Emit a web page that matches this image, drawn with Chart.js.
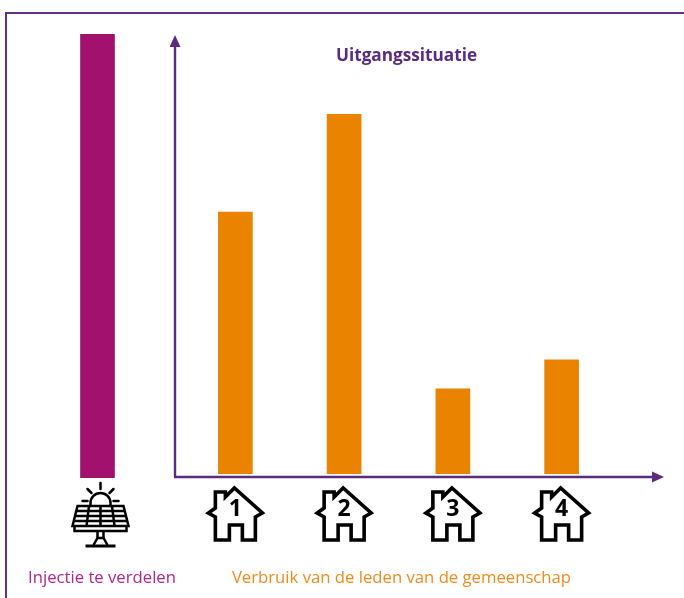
<!DOCTYPE html>
<html lang="nl">
<head>
<meta charset="utf-8">
<title>Uitgangssituatie</title>
<script src="https://cdn.jsdelivr.net/npm/chart.js@4"></script>
<style>
html,body{margin:0;padding:0;background:#fff;width:684px;height:598px;overflow:hidden}
canvas{position:absolute;top:0}
#frame{position:absolute;left:5px;top:12px;width:679px;height:586px;border-top:2px solid #5f3285;border-left:2px solid #5f3285;box-sizing:border-box}
</style>
</head>
<body>
<div id="frame"></div>
<canvas id="inj" width="194" height="598" style="left:0"></canvas>
<canvas id="use" width="514" height="598" style="left:170px"></canvas>
<script>
const chartTitle = "Uitgangssituatie";
const injectionCategory = ["Injectie te verdelen"];
const injectionValues = [100];
const memberCategories = ["1", "2", "3", "4"];
const memberValues = [59, 81, 19.2, 25.7];
const memberCaption = "Verbruik van de leden van de gemeenschap";
const yMax = 100;

const PURPLE = "#5b2c7e", MAGENTA = "#a3116f", ORANGE = "#e98300";
const FONT = '"Open Sans", sans-serif';

Chart.defaults.animation = false;
Chart.defaults.responsive = false;

function line(c, pts, close) {
  c.beginPath();
  pts.forEach((p, i) => i ? c.lineTo(p[0], p[1]) : c.moveTo(p[0], p[1]));
  if (close) c.closePath();
  c.stroke();
}

function drawHouse(c, cx, top) {
  c.save();
  c.translate(cx, top);
  c.strokeStyle = "#000";
  c.lineWidth = 3.6;
  c.lineJoin = "miter";
  line(c, [[-20,52],[-20,29],[-27,25],[-20,20],[-20,4],[-10,4],[-10,9],[-1,0],[27,25],[20,29],[20,52],[7,52],[7,37],[-6,37],[-6,52]], true);
  c.restore();
}

function drawPanel(c, cx, top) {
  c.save();
  c.translate(cx, top);
  c.strokeStyle = "#000";
  c.lineCap = "round";
  c.lineWidth = 2.5;
  c.beginPath(); c.moveTo(-10, 23); c.lineTo(-10, 20); c.arc(0, 20, 10, Math.PI, 2 * Math.PI, false); c.lineTo(10, 23);
  c.stroke();
  line(c, [[0,0],[0,6]]);
  line(c, [[-13,6],[-9,10]]);
  line(c, [[13,6],[9,10]]);
  line(c, [[-18,18],[-13,18]]);
  line(c, [[13,18],[18,18]]);
  c.lineCap = "butt";
  line(c, [[-23,23],[23,23],[28,43],[-28,43]], true);
  line(c, [[-26,43],[-26,48],[26,48],[26,43]]);
  line(c, [[-24.5,28],[24.5,28]]);
  line(c, [[-26,33],[26,33]]);
  line(c, [[-27,38],[27,38]]);
  line(c, [[-11.5,23],[-14,43]]);
  line(c, [[0,23],[0,43]]);
  line(c, [[11.5,23],[14,43]]);
  line(c, [[-3,48],[-3,55]]);
  line(c, [[3,48],[3,55]]);
  line(c, [[-7,62],[-3,55],[3,55],[7,62]]);
  c.lineWidth = 3;
  line(c, [[-15,63],[15,63]]);
  c.restore();
}

function text(c, str, x, y, font, color) {
  c.save();
  c.font = font;
  c.fillStyle = color;
  c.textAlign = "center";
  c.textBaseline = "middle";
  c.fillText(str, x, y);
  c.restore();
}

const injectionDecor = {
  id: "injectionDecor",
  afterDraw(chart) {
    const c = chart.ctx, cx = chart.scales.x.getPixelForValue(0);
    drawPanel(c, cx + 3, 483);
    text(c, injectionCategory[0], cx + 4.5, 578, "16.7px " + FONT, "#b0278c");
  }
};

const memberDecor = {
  id: "memberDecor",
  beforeDatasetsDraw(chart) {
    const c = chart.ctx, y0 = chart.scales.y.getPixelForValue(0) + 3;
    const ax = 5;
    c.save();
    c.strokeStyle = PURPLE;
    c.fillStyle = PURPLE;
    c.lineWidth = 2.4;
    line(c, [[ax, y0], [ax, 46]]);
    line(c, [[ax - 1, y0], [483, y0]]);
    c.beginPath(); c.moveTo(ax, 35); c.lineTo(ax + 5.5, 47); c.lineTo(ax - 5.5, 47); c.closePath(); c.fill();
    c.beginPath(); c.moveTo(494, y0); c.lineTo(482, y0 + 5.5); c.lineTo(482, y0 - 5.5); c.closePath(); c.fill();
    c.restore();
  },
  afterDraw(chart) {
    const c = chart.ctx, s = chart.scales.x;
    memberCategories.forEach((m, i) => drawHouse(c, s.getPixelForTick(i), 488));
    text(c, memberCaption, 231.5, 578, "16.7px " + FONT, "#f08a1d");
    text(c, chartTitle, 236.5, 56, "bold 17.2px " + FONT, PURPLE);
  }
};

new Chart(document.getElementById("inj"), {
  type: "bar",
  data: { labels: injectionCategory, datasets: [{ data: injectionValues, backgroundColor: MAGENTA, borderWidth: 0, barThickness: 34 }] },
  options: {
    layout: { padding: { top: 34, left: 1, bottom: 120 } },
    plugins: { legend: { display: false }, tooltip: { enabled: false } },
    scales: {
      x: { display: false },
      y: { display: false, min: 0, max: yMax }
    }
  },
  plugins: [injectionDecor]
});

new Chart(document.getElementById("use"), {
  type: "bar",
  data: { labels: memberCategories, datasets: [{ data: memberValues, backgroundColor: ORANGE, borderWidth: 0, barThickness: 34 }] },
  options: {
    layout: { padding: { top: 30, left: 11, right: 68, bottom: 0 } },
    plugins: { legend: { display: false }, tooltip: { enabled: false } },
    scales: {
      x: {
        grid: { display: false, drawTicks: false },
        border: { display: false },
        ticks: { color: "#000", padding: 22, maxRotation: 0, font: { family: "Open Sans", size: 23, weight: "bold" } },
        afterFit(s) { s.height = 124; }
      },
      y: { display: false, min: 0, max: yMax }
    }
  },
  plugins: [memberDecor]
});
</script>
</body>
</html>
